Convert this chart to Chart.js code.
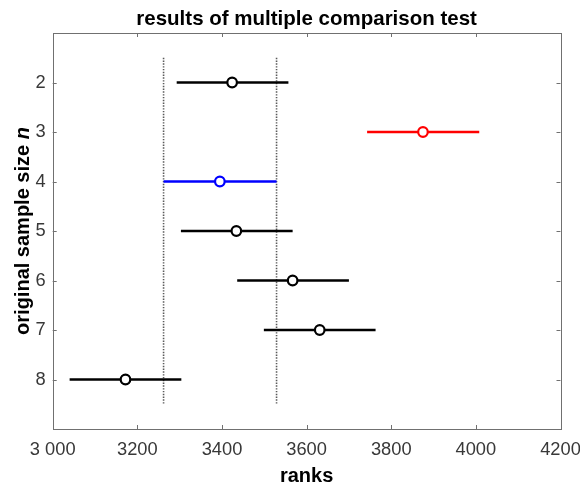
<!DOCTYPE html>
<html>
<head>
<meta charset="utf-8">
<script src="https://cdn.jsdelivr.net/npm/chart.js@4.4.1/dist/chart.umd.min.js"></script>
<style>
  html, body { margin: 0; padding: 0; background: #ffffff; }
  canvas { display: block; }
</style>
</head>
<body>
<canvas id="c" width="580" height="489"></canvas>
<script>
// ---- data ----
const groups     = [2, 3, 4, 5, 6, 7, 8];
const estimates  = [3424, 3875, 3395, 3434, 3567, 3631, 3172];
const lowerBound = [3293, 3743, 3262, 3303, 3436, 3499, 3040];
const upperBound = [3557, 4008, 3529, 3567, 3700, 3763, 3304];
const groupColors = ['#000000', '#ff0000', '#0000ff', '#000000', '#000000', '#000000', '#000000'];
const refLineX   = [3262, 3529];      // dotted reference lines (selected group's interval)
const refLineY   = [1.5, 8.5];
const xTicks      = [3000, 3200, 3400, 3600, 3800, 4000, 4200];
const xTickLabels = ['3 000', '3200', '3400', '3600', '3800', '4000', '4200'];
const yTicks      = [2, 3, 4, 5, 6, 7, 8];

const titleText = 'results of multiple comparison test';
const xTitle = 'ranks';
const yTitleMain = 'original sample size ';
const yTitleItalic = 'n';

const FONT = "'Liberation Sans', Arial, Helvetica, sans-serif";
const AXIS_COLOR = '#707070';
const TEXT_COLOR = '#383838';

// ---- datasets ----
const datasets = [];
datasets.push({
  type: 'scatter',
  data: groups.map((g, i) => ({ x: estimates[i], y: g })),
  pointRadius: 4.8,
  pointHoverRadius: 4.8,
  pointBorderWidth: 2.2,
  pointBorderColor: groupColors,
  pointBackgroundColor: '#ffffff',
  showLine: false,
  order: 0
});
groups.forEach((g, i) => {
  datasets.push({
    type: 'line',
    data: [{ x: lowerBound[i], y: g }, { x: upperBound[i], y: g }],
    borderColor: groupColors[i],
    borderWidth: 2.5,
    pointRadius: 0,
    borderCapStyle: 'butt',
    order: 1
  });
});
refLineX.forEach(xv => {
  datasets.push({
    type: 'line',
    data: [{ x: xv, y: refLineY[0] }, { x: xv, y: refLineY[1] }],
    borderColor: '#5a5a5a',
    borderWidth: 1.6,
    borderDash: [1.4, 1.4],
    pointRadius: 0,
    order: 2
  });
});

// ---- plugins ----
const boxPlugin = {
  id: 'matlabBox',
  afterDatasetsDraw(chart) {
    const { ctx, chartArea: a, scales } = chart;
    ctx.save();
    ctx.strokeStyle = AXIS_COLOR;
    ctx.lineWidth = 1;
    ctx.strokeRect(Math.round(a.left) + 0.5, Math.round(a.top) + 0.5,
                   Math.round(a.right) - Math.round(a.left), Math.round(a.bottom) - Math.round(a.top));
    const tl = 4;
    ctx.beginPath();
    xTicks.forEach(v => {
      const px = Math.round(scales.x.getPixelForValue(v)) + 0.5;
      ctx.moveTo(px, a.bottom); ctx.lineTo(px, a.bottom - tl);
      ctx.moveTo(px, a.top); ctx.lineTo(px, a.top + tl);
    });
    yTicks.forEach(v => {
      const py = Math.round(scales.y.getPixelForValue(v)) + 0.5;
      ctx.moveTo(a.left, py); ctx.lineTo(a.left + tl, py);
      ctx.moveTo(a.right, py); ctx.lineTo(a.right - tl, py);
    });
    ctx.stroke();
    ctx.restore();
  },
  afterDraw(chart) {
    const { ctx, chartArea: a } = chart;
    ctx.save();
    // main title, centred over the plot area
    ctx.fillStyle = '#000000';
    ctx.font = 'bold 20.5px ' + FONT;
    ctx.textAlign = 'center';
    ctx.textBaseline = 'alphabetic';
    ctx.fillText(titleText, (a.left + a.right) / 2, 25);
    // y axis title with italic n
    const fMain = 'bold 20px ' + FONT;
    const fIt = 'italic bold 20px ' + FONT;
    ctx.font = fMain;
    const w1 = ctx.measureText(yTitleMain).width;
    ctx.font = fIt;
    const w2 = ctx.measureText(yTitleItalic).width;
    const total = w1 + w2;
    const cy = (a.top + a.bottom) / 2;
    ctx.translate(28.5, cy);
    ctx.rotate(-Math.PI / 2);
    ctx.textAlign = 'left';
    ctx.font = fMain;
    ctx.fillText(yTitleMain, -total / 2, 0);
    ctx.font = fIt;
    ctx.fillText(yTitleItalic, -total / 2 + w1, 0);
    ctx.restore();
  }
};

const bgPlugin = {
  id: 'bg',
  beforeDraw(chart) {
    const { ctx, width, height } = chart;
    ctx.save();
    ctx.fillStyle = '#ffffff';
    ctx.fillRect(0, 0, width, height);
    ctx.restore();
  }
};

new Chart(document.getElementById('c'), {
  data: { datasets },
  options: {
    responsive: false,
    animation: false,
    events: [],
    layout: { padding: { top: 33, right: 19.5, bottom: 0, left: 0 } },
    plugins: {
      legend: { display: false },
      tooltip: { enabled: false },
      title: { display: false }
    },
    scales: {
      x: {
        type: 'linear',
        position: 'bottom',
        min: 3000,
        max: 4200,
        afterBuildTicks: s => { s.ticks = xTicks.map(v => ({ value: v })); },
        afterFit: s => { s.height = 60; s.paddingLeft = 0; s.paddingRight = 0; },
        grid: { display: false, drawTicks: false },
        border: { display: false },
        ticks: {
          padding: 10,
          color: TEXT_COLOR,
          maxRotation: 0,
          autoSkip: false,
          font: { family: FONT, size: 18.3, lineHeight: 1.2 },
          callback: (v) => { const i = xTicks.indexOf(v); return i >= 0 ? xTickLabels[i] : ''; }
        },
        title: {
          display: true,
          text: xTitle,
          color: '#000000',
          font: { family: FONT, size: 20, weight: 'bold', lineHeight: 1.2 },
          padding: { top: 0, bottom: 1 }
        }
      },
      y: {
        type: 'linear',
        min: 1,
        max: 9,
        reverse: true,
        afterBuildTicks: s => { s.ticks = yTicks.map(v => ({ value: v })); },
        afterFit: s => { s.width = 52.7; },
        grid: { display: false, drawTicks: false },
        border: { display: false },
        ticks: {
          padding: 7,
          color: TEXT_COLOR,
          autoSkip: false,
          font: { family: FONT, size: 18.3, lineHeight: 1.2 },
          callback: (v) => String(v)
        }
      }
    }
  },
  plugins: [bgPlugin, boxPlugin]
});
</script>
</body>
</html>
